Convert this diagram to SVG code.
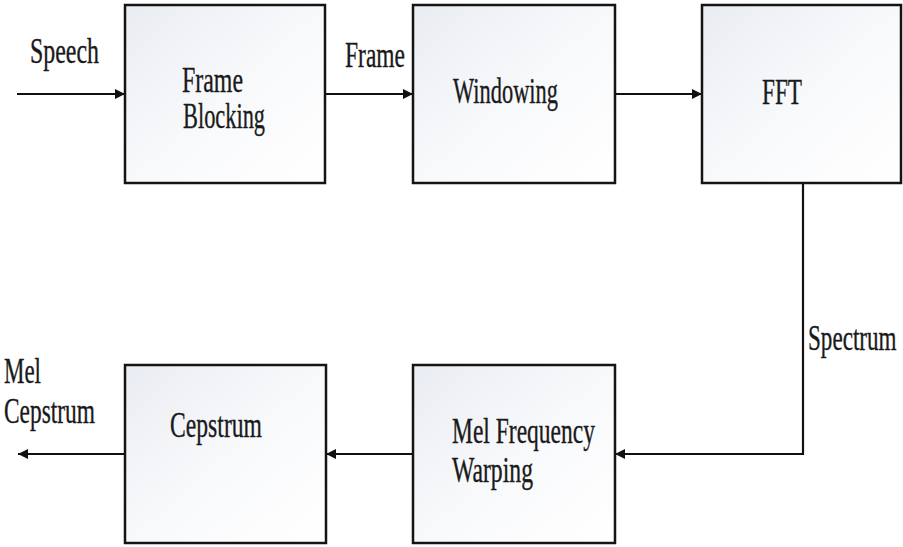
<svg xmlns="http://www.w3.org/2000/svg" width="903" height="547" viewBox="0 0 903 547">
  <style>
    .box { fill: url(#boxFill); stroke: #141414; stroke-width: 2.5; }
    .lbl { font-family: "Liberation Serif", "Times New Roman", serif; font-size: 35px; fill: #1a1a1a; stroke: #1a1a1a; stroke-width: 0.35; }
    .wire { fill: none; stroke: #111; stroke-width: 2.2; marker-end: url(#arrow); }
  </style>
  <defs>
    <linearGradient id="boxFill" x1="0" y1="0" x2="1" y2="1">
      <stop offset="0" stop-color="#e9ecf2"/>
      <stop offset="0.5" stop-color="#f8f9fb"/>
      <stop offset="1" stop-color="#ffffff"/>
    </linearGradient>
    <marker id="arrow" markerUnits="userSpaceOnUse" markerWidth="10" markerHeight="10" refX="10" refY="5" orient="auto">
      <path d="M0,0 L10,5 L0,10 z" fill="#111"/>
    </marker>
  </defs>

  <rect width="903" height="547" fill="#ffffff"/>

  <!-- connectors -->
  <g id="connectors">
    <path class="wire" d="M17,94 H125"/>
    <path class="wire" d="M325,94 H413"/>
    <path class="wire" d="M615,94 H702"/>
    <path class="wire" d="M803,183 V454 H615"/>
    <path class="wire" d="M413,454 H326"/>
    <path class="wire" d="M125,454 H18"/>
  </g>

  <!-- edge labels -->
  <g id="edge-labels">
    <text class="lbl" x="30" y="63" textLength="69" lengthAdjust="spacingAndGlyphs">Speech</text>
    <text class="lbl" x="345" y="67" textLength="60" lengthAdjust="spacingAndGlyphs">Frame</text>
    <!-- narrowed with a scale so its box stays inside the canvas -->
    <text class="lbl" transform="translate(808,350) scale(0.66,1)" x="0" y="0">Spectrum</text>
    <text class="lbl" x="4" y="383" textLength="37" lengthAdjust="spacingAndGlyphs">Mel</text>
    <text class="lbl" x="4" y="423" textLength="91" lengthAdjust="spacingAndGlyphs">Cepstrum</text>
  </g>

  <g id="frame-blocking">
    <rect class="box" x="125" y="5" width="200" height="178"/>
    <text class="lbl" x="182" y="92" textLength="61" lengthAdjust="spacingAndGlyphs">Frame</text>
    <text class="lbl" x="183" y="128" textLength="82" lengthAdjust="spacingAndGlyphs">Blocking</text>
  </g>

  <g id="windowing">
    <rect class="box" x="413" y="5" width="202" height="178"/>
    <text class="lbl" x="453" y="103" textLength="105" lengthAdjust="spacingAndGlyphs">Windowing</text>
  </g>

  <g id="fft">
    <rect class="box" x="702" y="5" width="199" height="178"/>
    <text class="lbl" x="762" y="104" textLength="40" lengthAdjust="spacingAndGlyphs">FFT</text>
  </g>

  <g id="mel-frequency-warping">
    <rect class="box" x="413" y="365" width="202" height="178"/>
    <text class="lbl" x="452" y="443" textLength="143" lengthAdjust="spacingAndGlyphs">Mel Frequency</text>
    <text class="lbl" x="452" y="482" textLength="81" lengthAdjust="spacingAndGlyphs">Warping</text>
  </g>

  <g id="cepstrum">
    <rect class="box" x="125" y="365" width="201" height="178"/>
    <text class="lbl" x="170" y="437" textLength="92" lengthAdjust="spacingAndGlyphs">Cepstrum</text>
  </g>
</svg>
